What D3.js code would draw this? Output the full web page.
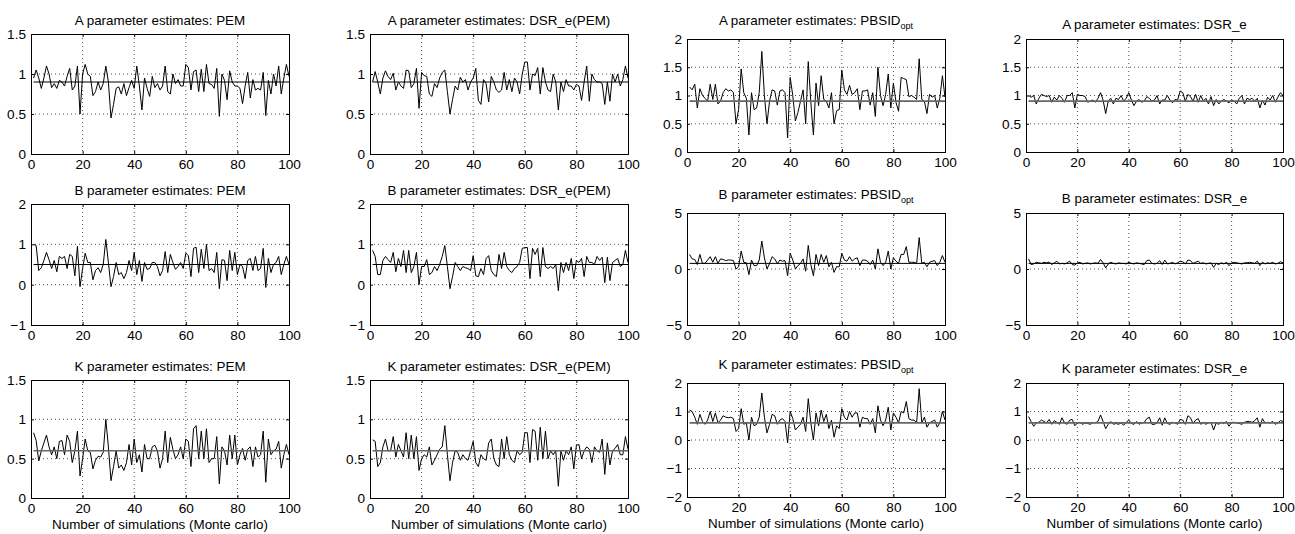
<!DOCTYPE html>
<html>
<head>
<meta charset="utf-8">
<script src="https://cdn.jsdelivr.net/npm/d3@7"></script>
<style>
  body { margin: 0; background: #fff; }
  text { font-family: "Liberation Sans", Arial, Helvetica, sans-serif; fill: #000; }
</style>
</head>
<body>
<svg id="fig" width="1295" height="534"></svg>
<script>
// Monte carlo run index 1..100
const runs = d3.range(1, 101);

// true parameter values (horizontal reference lines)
const trueA = 0.9, trueB = 0.5, trueK = 0.6;

// A estimates
const aPEM = [0.95,1.05,0.95,0.82,0.95,1.10,1.00,0.83,0.88,0.82, 0.92,0.90,0.85,0.97,1.07,0.80,0.85,1.10,0.50,1.00,
  1.12,1.00,0.97,0.73,0.78,0.90,0.80,0.88,1.10,0.90, 0.45,0.62,0.82,0.84,0.75,0.88,0.73,0.83,0.92,0.82,
  1.10,0.85,0.55,0.95,0.82,0.72,0.97,0.83,0.88,0.80, 0.85,1.10,0.78,0.75,1.00,0.88,0.93,0.85,0.85,1.12,
  1.08,0.80,1.03,1.05,0.78,1.06,0.78,1.12,0.88,0.87, 0.82,1.07,0.47,1.00,0.92,0.68,1.04,0.90,0.85,0.85,
  0.82,0.63,0.85,1.02,0.70,0.93,0.80,0.82,0.80,1.02, 0.48,0.92,0.75,1.00,0.85,1.10,0.75,0.95,1.12,0.97];
const aDSRPEM = [0.90,1.03,0.90,0.75,0.95,1.04,0.97,0.93,1.01,0.80, 0.90,0.85,0.82,1.05,1.04,0.83,0.88,1.07,0.57,1.02,
  0.98,0.97,0.75,0.72,0.88,0.83,0.95,1.02,1.05,0.78, 0.50,0.68,0.85,0.80,0.96,0.90,0.93,0.80,0.90,0.95,
  1.07,0.67,0.62,0.93,0.88,0.65,0.97,0.90,0.80,0.77, 0.80,1.02,0.80,0.93,0.78,0.95,0.90,0.75,1.00,1.15,
  1.15,0.80,1.00,0.98,1.08,0.75,1.08,0.90,0.80,0.78, 1.00,0.90,0.55,0.90,0.78,0.93,0.85,0.85,0.80,0.87,
  0.85,0.67,0.90,1.10,0.66,1.00,0.93,0.90,0.90,0.88, 0.62,0.90,0.66,1.00,0.90,1.00,0.85,0.93,1.10,0.95];
const aPBSID = [1.15,1.10,1.20,0.78,1.12,1.00,0.95,0.90,1.20,0.93, 1.20,0.85,0.90,1.05,1.12,1.08,1.10,1.05,0.50,0.75,
  1.47,1.05,0.95,0.30,1.05,0.75,0.78,1.05,1.78,1.00, 0.50,0.90,1.10,1.08,0.83,1.08,1.10,1.05,0.25,1.32,
  1.00,0.55,0.70,0.90,1.10,0.50,1.60,0.88,0.30,1.22, 0.82,1.35,0.93,0.90,0.78,1.05,0.50,0.73,0.75,1.45,
  1.10,1.02,1.18,1.02,1.05,1.12,0.75,1.08,1.08,1.10, 0.83,1.05,0.63,1.50,1.00,0.82,1.02,1.38,0.78,1.22,
  0.88,0.72,1.32,1.30,1.28,0.98,1.00,0.97,0.93,1.65, 0.93,0.90,0.68,1.02,0.97,1.00,0.78,0.95,1.35,0.97];
const aDSR = [1.00,0.97,1.00,0.85,0.95,1.02,1.00,0.98,1.00,0.88, 0.97,0.92,1.00,0.95,0.88,1.00,1.00,1.05,0.78,1.02,
  1.00,1.00,0.98,0.88,0.90,0.92,0.88,0.95,1.05,0.92, 0.68,0.90,0.95,0.85,0.95,0.93,1.00,0.90,0.95,1.05,
  0.92,0.82,0.90,0.93,0.88,0.90,0.98,0.95,0.90,0.92, 1.00,0.85,0.92,0.92,1.00,0.92,0.87,0.93,0.92,1.08,
  1.05,0.90,1.02,0.98,0.90,1.02,0.88,1.00,0.90,0.95, 0.85,0.98,0.82,0.93,0.85,0.90,0.93,0.90,0.87,0.92,
  0.90,0.85,0.95,1.00,0.85,0.95,0.93,0.95,0.90,0.95, 0.78,0.92,0.83,0.97,0.92,1.00,0.88,0.97,1.05,1.00];

// B estimates
const bPEM = [1.00,0.97,0.35,0.42,0.60,0.80,0.62,0.40,0.60,0.32, 0.70,0.65,0.70,0.40,0.75,0.70,0.22,0.95,-0.05,0.40,
  0.78,0.55,0.55,0.12,0.35,0.42,0.30,0.50,1.12,0.55, -0.05,0.20,0.55,0.25,0.30,0.15,0.30,0.60,0.35,0.80,
  0.25,0.60,0.08,0.55,0.38,0.40,0.55,0.55,0.45,0.22, 0.35,0.82,0.30,0.75,0.55,0.38,0.45,0.55,0.40,0.78,
  0.72,0.20,0.90,0.93,0.30,0.88,0.40,1.00,0.35,0.40, 0.30,0.80,-0.10,0.62,0.60,0.10,0.85,0.35,0.80,0.25,
  0.50,0.45,0.15,0.60,0.65,0.35,0.70,0.35,0.40,0.90, -0.07,0.65,0.30,0.50,0.55,0.70,0.25,0.50,0.70,0.50];
const bDSRPEM = [0.85,0.70,0.25,0.25,0.60,0.70,0.62,0.55,0.80,0.32, 0.65,0.45,0.85,0.30,0.85,0.30,0.45,0.80,0.00,0.45,
  0.45,0.62,0.25,0.30,0.45,0.35,0.50,0.70,0.97,0.45, -0.10,0.20,0.55,0.45,0.35,0.45,0.42,0.40,0.35,0.72,
  0.22,0.20,0.40,0.25,0.65,0.72,0.35,0.25,0.20,0.75, 0.40,0.80,0.45,0.35,0.30,0.40,0.45,0.55,0.90,0.92,
  0.92,0.15,0.90,0.75,0.90,0.20,0.92,0.45,0.40,0.45, 0.40,0.50,-0.15,0.55,0.30,0.55,0.35,0.65,0.15,0.60,
  0.55,0.65,0.20,0.70,0.55,0.55,0.50,0.70,0.60,0.68, 0.05,0.68,0.10,0.55,0.60,0.65,0.45,0.50,0.85,0.55];
const bPBSID = [1.30,0.90,0.85,0.40,1.30,0.50,0.50,0.80,1.10,0.60, 1.10,0.50,0.90,0.85,0.75,0.80,0.80,0.75,0.00,0.20,
  1.60,0.60,0.55,-0.50,0.80,0.30,0.30,0.80,2.50,1.00, 0.00,0.50,1.10,0.90,0.50,0.80,0.70,0.75,-0.60,1.40,
  0.80,0.00,0.30,0.50,0.90,-0.20,2.10,0.40,-0.60,1.30, 0.30,1.30,0.60,1.20,0.20,0.60,-0.30,0.20,0.20,1.40,
  0.80,0.70,1.10,0.70,0.90,1.00,0.30,0.80,0.80,0.70, 0.40,0.80,0.00,1.80,0.60,0.30,0.60,1.60,0.00,1.00,
  0.70,0.50,1.30,1.30,2.00,0.60,0.60,0.60,0.50,2.80, 0.50,0.60,0.20,0.60,0.70,0.75,0.30,0.60,1.20,0.60];
const bDSR = [0.90,0.40,0.45,0.60,0.55,0.50,0.60,0.55,0.62,0.40, 0.55,0.70,0.45,0.50,0.45,0.55,0.70,0.40,0.35,0.55,
  0.60,0.45,0.50,0.55,0.45,0.50,0.55,0.50,0.85,0.55, 0.10,0.45,0.60,0.50,0.45,0.55,0.50,0.50,0.45,0.60,
  0.50,0.45,0.55,0.50,0.45,0.40,0.75,0.80,0.50,0.45, 0.50,0.75,0.40,0.80,0.45,0.50,0.60,0.45,0.55,0.70,
  0.65,0.45,0.80,0.75,0.50,0.60,0.70,0.50,0.55,0.45, 0.50,0.55,0.15,0.50,0.40,0.55,0.45,0.60,0.30,0.55,
  0.60,0.55,0.50,0.45,0.55,0.55,0.60,0.55,0.50,0.70, 0.30,0.60,0.45,0.55,0.50,0.60,0.45,0.50,0.65,0.55];

// K estimates
const kPEM = [0.83,0.73,0.47,0.60,0.70,0.80,0.65,0.55,0.65,0.50, 0.72,0.73,0.55,0.80,0.72,0.45,0.60,0.85,0.28,0.50,
  0.75,0.60,0.58,0.37,0.48,0.53,0.52,0.58,1.00,0.65, 0.22,0.40,0.60,0.38,0.42,0.35,0.45,0.68,0.42,0.75,
  0.45,0.55,0.33,0.68,0.50,0.50,0.65,0.67,0.60,0.38, 0.50,0.85,0.45,0.77,0.62,0.50,0.55,0.65,0.50,0.75,
  0.72,0.40,0.88,0.92,0.50,0.85,0.50,0.88,0.45,0.50, 0.50,0.78,0.18,0.65,0.60,0.42,0.80,0.50,0.80,0.42,
  0.55,0.63,0.48,0.62,0.65,0.40,0.65,0.52,0.55,0.85, 0.20,0.75,0.55,0.60,0.62,0.72,0.38,0.55,0.68,0.55];
const kDSRPEM = [0.74,0.72,0.40,0.45,0.65,0.75,0.60,0.60,0.78,0.52, 0.68,0.60,0.52,0.83,0.50,0.80,0.50,0.78,0.35,0.50,
  0.55,0.52,0.65,0.42,0.48,0.55,0.62,0.65,0.92,0.55, 0.22,0.45,0.60,0.58,0.48,0.55,0.50,0.48,0.60,0.72,
  0.45,0.40,0.55,0.50,0.48,0.70,0.75,0.50,0.42,0.40, 0.75,0.50,0.78,0.55,0.48,0.45,0.60,0.55,0.58,0.83,
  0.83,0.45,0.87,0.85,0.48,0.90,0.50,0.85,0.50,0.60, 0.55,0.60,0.15,0.60,0.48,0.60,0.55,0.65,0.37,0.67,
  0.68,0.50,0.60,0.65,0.62,0.45,0.65,0.60,0.58,0.75, 0.30,0.70,0.42,0.60,0.63,0.68,0.55,0.55,0.78,0.62];
const kPBSID = [1.05,1.00,0.80,0.55,0.90,0.65,0.55,0.70,1.00,0.65, 0.95,0.60,0.70,0.85,0.80,0.78,0.80,0.75,0.30,0.40,
  1.10,0.55,0.60,0.00,0.80,0.50,0.55,0.80,1.65,0.80, 0.25,0.55,0.90,0.85,0.55,0.70,0.75,0.65,-0.10,1.00,
  0.75,0.35,0.45,0.55,0.80,0.30,1.45,0.60,0.00,0.95, 0.50,1.05,0.65,0.90,0.40,0.70,0.10,0.50,0.40,1.10,
  0.80,0.70,1.00,0.80,0.95,0.95,0.45,0.80,0.75,0.75, 0.55,0.75,0.25,1.20,0.70,0.50,0.70,1.15,0.35,0.95,
  0.80,0.60,1.00,0.95,1.35,0.75,0.70,0.70,0.60,1.80, 0.60,0.80,0.45,0.60,0.65,0.70,0.45,0.60,1.00,0.70];
const kDSR = [0.82,0.65,0.48,0.60,0.62,0.70,0.65,0.60,0.72,0.55, 0.68,0.62,0.55,0.78,0.60,0.55,0.70,0.72,0.50,0.60,
  0.62,0.55,0.60,0.58,0.55,0.62,0.60,0.65,0.88,0.65, 0.40,0.55,0.65,0.55,0.58,0.55,0.60,0.52,0.62,0.70,
  0.58,0.55,0.65,0.55,0.60,0.62,0.75,0.80,0.55,0.55, 0.60,0.78,0.52,0.78,0.58,0.55,0.62,0.60,0.55,0.72,
  0.70,0.55,0.85,0.78,0.58,0.70,0.75,0.55,0.62,0.55, 0.60,0.62,0.35,0.60,0.55,0.62,0.58,0.65,0.48,0.62,
  0.62,0.60,0.58,0.55,0.62,0.65,0.65,0.62,0.68,0.78, 0.45,0.75,0.60,0.62,0.60,0.65,0.55,0.60,0.68,0.65];

const xTicks = [0, 20, 40, 60, 80, 100];
const methods = ["PEM", "DSR_e(PEM)", "PBSID", "DSR_e"];

// one row per parameter
const rows = [
  { name: "A", truth: trueA, series: [aPEM, aDSRPEM, aPBSID, aDSR],
    domains: [[0, 1.5], [0, 1.5], [0, 2], [0, 2]],
    ticks: [[0, 0.5, 1, 1.5], [0, 0.5, 1, 1.5], [0, 0.5, 1, 1.5, 2], [0, 0.5, 1, 1.5, 2]],
    refGray: [false, false, true, true] },
  { name: "B", truth: trueB, series: [bPEM, bDSRPEM, bPBSID, bDSR],
    domains: [[-1, 2], [-1, 2], [-5, 5], [-5, 5]],
    ticks: [[-1, 0, 1, 2], [-1, 0, 1, 2], [-5, 0, 5], [-5, 0, 5]],
    refGray: [false, false, false, false] },
  { name: "K", truth: trueK, series: [kPEM, kDSRPEM, kPBSID, kDSR],
    domains: [[0, 1.5], [0, 1.5], [-2, 2], [-2, 2]],
    ticks: [[0, 0.5, 1, 1.5], [0, 0.5, 1, 1.5], [-2, -1, 0, 1, 2], [-2, -1, 0, 1, 2]],
    refGray: [true, true, true, true] }
];

// panel boxes (pixels)
const colX = [[31, 289], [370, 628], [687, 945], [1026, 1283]];
const rowYwide = [[34, 154], [204, 325], [380, 498]];
const rowYnarrow = [[39, 152], [213, 325], [383, 497]];
const titleGap = [9, 9, 14, 10];

const svg = d3.select("#fig");
const fmt = d3.format("~g");
const tickFont = 13.6, titleFont = 13.4;

rows.forEach((row, r) => {
  methods.forEach((method, c) => {
    const [x0, x1] = colX[c];
    const [y0, y1] = (c < 2 ? rowYwide : rowYnarrow)[r];
    const x = d3.scaleLinear().domain([0, 100]).range([x0, x1]);
    const y = d3.scaleLinear().domain(row.domains[c]).range([y1, y0]);
    const yt = row.ticks[c];
    const g = svg.append("g");
    const clipId = "clip" + r + c;

    g.append("clipPath").attr("id", clipId)
      .append("rect").attr("x", x0).attr("y", y0).attr("width", x1 - x0).attr("height", y1 - y0);

    // dotted grid
    g.append("g").selectAll("line").data(xTicks.slice(1, -1)).enter().append("line")
      .attr("x1", d => x(d)).attr("x2", d => x(d)).attr("y1", y0).attr("y2", y1)
      .attr("stroke", "#222").attr("stroke-width", 0.8).attr("stroke-dasharray", "1,3");
    g.append("g").selectAll("line").data(yt.slice(1, -1)).enter().append("line")
      .attr("y1", d => y(d)).attr("y2", d => y(d)).attr("x1", x0).attr("x2", x1)
      .attr("stroke", "#222").attr("stroke-width", 0.8).attr("stroke-dasharray", "1,3");

    const line = d3.line().x((d, i) => x(runs[i])).y(d => y(d));
    g.append("path").datum(row.series[c])
      .attr("clip-path", "url(#" + clipId + ")")
      .attr("fill", "none").attr("stroke", "#000").attr("stroke-width", 1)
      .attr("stroke-linejoin", "round").attr("d", line);

    // true value
    g.append("line")
      .attr("x1", x(runs[0])).attr("x2", x(runs[runs.length - 1]))
      .attr("y1", y(row.truth)).attr("y2", y(row.truth))
      .attr("stroke", row.refGray[c] ? "#666" : "#000")
      .attr("stroke-width", row.refGray[c] ? 1.6 : 1);

    // axes, ticks pointing inward
    const bottom = g.append("g").attr("transform", `translate(0,${y1})`)
      .call(d3.axisBottom(x).tickValues(xTicks).tickSize(-3).tickPadding(5).tickFormat(fmt));
    const left = g.append("g").attr("transform", `translate(${x0},0)`)
      .call(d3.axisLeft(y).tickValues(yt).tickSize(-3).tickPadding(5).tickFormat(fmt));
    const top = g.append("g").attr("transform", `translate(0,${y0})`)
      .call(d3.axisTop(x).tickValues(xTicks).tickSize(-3).tickFormat(""));
    const right = g.append("g").attr("transform", `translate(${x1},0)`)
      .call(d3.axisRight(y).tickValues(yt).tickSize(-3).tickFormat(""));
    [bottom, left, top, right].forEach(a => {
      a.selectAll(".domain").attr("stroke", "#000").attr("stroke-width", 1);
      a.selectAll(".tick line").attr("stroke", "#000");
      a.selectAll("text").attr("font-size", tickFont).attr("font-family", null).attr("fill", "#000");
    });

    // title
    const t = g.append("text")
      .attr("x", (x0 + x1) / 2).attr("y", y0 - titleGap[c])
      .attr("text-anchor", "middle").attr("font-size", titleFont);
    t.append("tspan").text(row.name + " parameter estimates: " + method);
    if (method === "PBSID") {
      t.append("tspan").attr("font-size", 9).attr("dy", 4).text("opt");
    }

    if (r === 2) {
      g.append("text")
        .attr("x", (x0 + x1) / 2).attr("y", y1 + 31)
        .attr("text-anchor", "middle").attr("font-size", titleFont)
        .text("Number of simulations (Monte carlo)");
    }
  });
});
</script>
</body>
</html>
